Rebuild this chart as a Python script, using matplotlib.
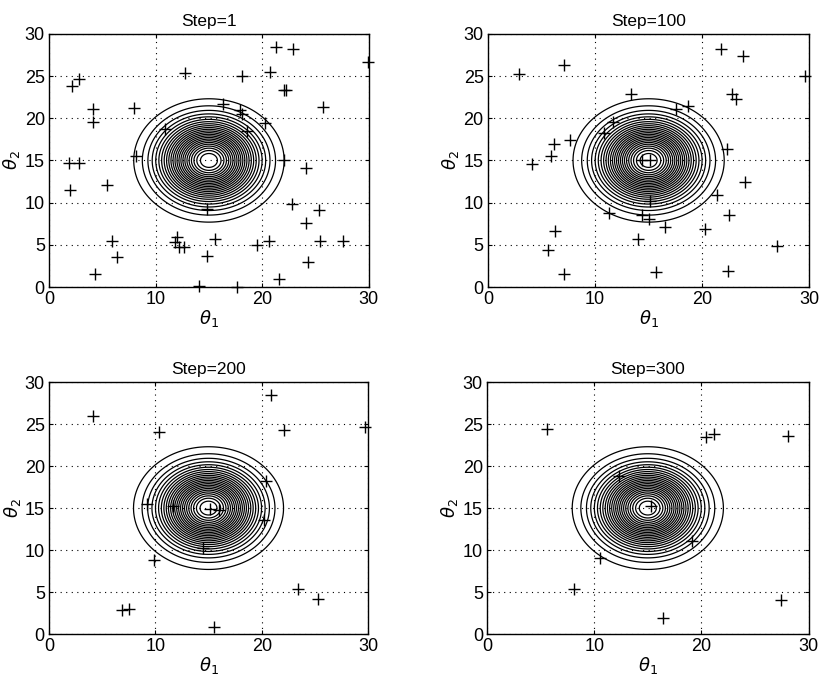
import matplotlib.pyplot as plt
import numpy as np

plt.rcParams['font.family'] = ['Liberation Sans', 'DejaVu Sans']
plt.rcParams['mathtext.fontset'] = 'dejavusans'

titles = ['Step=1', 'Step=100', 'Step=200', 'Step=300']

# particle positions (theta1, theta2) for each step
step1_x = [21.3, 22.9, 29.9, 12.8, 18.1, 20.7, 2.2, 2.8, 22.0, 22.2, 25.7, 4.15, 4.15,
           8.0, 16.3, 17.9, 18.1, 20.3, 18.6, 10.9, 1.9, 2.8, 8.2, 22.0, 24.1, 2.0,
           5.4, 22.8, 25.3, 14.8, 24.1, 5.9, 6.35, 4.3, 12.0, 11.8, 12.2, 12.7, 15.6,
           14.8, 19.5, 20.6, 25.4, 27.6, 24.3, 21.6, 14.1, 17.6]
step1_y = [28.4, 28.2, 26.7, 25.4, 25.05, 25.5, 23.8, 24.6, 23.4, 23.3, 21.3, 21.1, 19.6,
           21.2, 21.7, 21.0, 20.5, 19.4, 18.5, 18.7, 14.7, 14.7, 15.5, 15.05, 14.15, 11.5,
           12.1, 9.85, 9.1, 9.3, 7.55, 5.5, 3.6, 1.6, 5.9, 5.3, 4.7, 4.8, 5.7,
           3.7, 5.0, 5.4, 5.45, 5.45, 3.0, 0.95, 0.1, 0.05]

step100_x = [2.9, 7.1, 4.1, 5.9, 6.2, 7.7, 6.3, 5.6, 7.1, 13.4, 21.8, 23.8, 29.6, 22.8,
             23.2, 18.7, 17.6, 22.3, 24.0, 21.4, 22.5, 20.3, 16.5, 15.0, 14.4, 15.1,
             15.1, 14.4, 11.7, 10.8, 11.3, 14.0, 15.7, 22.4, 27.0]
step100_y = [25.2, 26.3, 14.6, 15.5, 17.0, 17.4, 6.7, 4.4, 1.6, 22.9, 28.2, 27.4, 25.0, 22.9,
             22.3, 21.4, 21.1, 16.4, 12.4, 10.9, 8.5, 6.9, 7.1, 8.1, 8.5, 10.2,
             15.1, 15.1, 19.6, 18.2, 8.8, 5.7, 1.8, 1.9, 4.9]

step200_x = [4.1, 10.3, 20.9, 22.1, 29.7, 20.4, 9.2, 9.9, 14.5, 15.1, 16.0, 11.7, 20.2,
             23.4, 25.3, 6.9, 7.5, 15.5]
step200_y = [26.0, 24.1, 28.5, 24.3, 24.7, 18.2, 15.5, 8.8, 10.3, 14.9, 14.8, 15.3, 13.6,
             5.4, 4.2, 2.9, 3.0, 0.8]

step300_x = [5.6, 20.4, 21.2, 28.1, 8.1, 16.4, 27.4, 10.5, 19.1, 15.3, 12.3]
step300_y = [24.4, 23.5, 23.8, 23.6, 5.4, 1.9, 4.0, 9.0, 11.1, 15.3, 18.8]

steps_x = [step1_x, step100_x, step200_x, step300_x]
steps_y = [step1_y, step100_y, step200_y, step300_y]

# target density: gaussian centred at (15, 15)
mu = (15.0, 15.0)
sigma = (2.78, 2.88)
n_levels = 25

g = np.linspace(0, 30, 401)
X, Y = np.meshgrid(g, g)
Z = np.exp(-0.5 * (((X - mu[0]) / sigma[0]) ** 2 + ((Y - mu[1]) / sigma[1]) ** 2))
levels = np.arange(1, n_levels) / n_levels

fig = plt.figure(figsize=(8.2, 6.77), dpi=100)
rects = [[0.0598, 0.576, 0.390, 0.374],
         [0.595, 0.576, 0.392, 0.374],
         [0.0598, 0.0635, 0.389, 0.372],
         [0.594, 0.0635, 0.392, 0.372]]

for rect, title, xs, ys in zip(rects, titles, steps_x, steps_y):
    ax = fig.add_axes(rect)
    ax.contour(X, Y, Z, levels=levels, colors='black', linewidths=0.9)
    ax.plot(xs, ys, '+', color='black', markersize=9, markeredgewidth=1.0,
            clip_on=False)
    ax.set_xlim(0, 30)
    ax.set_ylim(0, 30)
    ax.set_xticks([0, 10, 20, 30])
    ax.set_yticks([0, 5, 10, 15, 20, 25, 30])
    ax.grid(True, color='black', linestyle=(0, (1, 4)), linewidth=0.8)
    ax.tick_params(direction='in', length=3, top=True, right=True, labelsize=13,
                   pad=3)
    ax.set_title(title, fontsize=12.5, pad=6)
    ax.set_xlabel(r'$\theta_1$', fontsize=13, labelpad=0)
    ax.set_ylabel(r'$\theta_2$', fontsize=13)
    ax.yaxis.set_label_coords(-0.083, 0.5)
    for s in ax.spines.values():
        s.set_linewidth(1.0)

fig.savefig('out.png', dpi=100)
